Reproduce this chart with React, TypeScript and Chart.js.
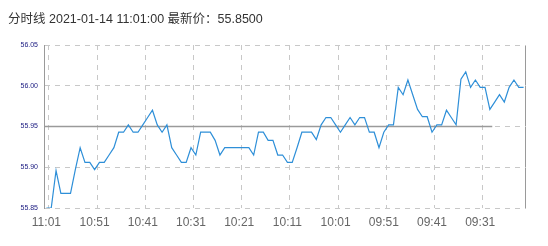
import React, { useEffect, useRef } from "react";
import { Chart, registerables } from "chart.js";

Chart.register(...registerables);

const titleText = "分时线 2021-01-14 11:01:00 最新价：55.8500";

const timeLabels = [
  "11:01", "11:00", "10:59", "10:58", "10:57", "10:56", "10:55", "10:54", "10:53", "10:52",
  "10:51", "10:50", "10:49", "10:48", "10:47", "10:46", "10:45", "10:44", "10:43", "10:42",
  "10:41", "10:40", "10:39", "10:38", "10:37", "10:36", "10:35", "10:34", "10:33", "10:32",
  "10:31", "10:30", "10:29", "10:28", "10:27", "10:26", "10:25", "10:24", "10:23", "10:22",
  "10:21", "10:20", "10:19", "10:18", "10:17", "10:16", "10:15", "10:14", "10:13", "10:12",
  "10:11", "10:10", "10:09", "10:08", "10:07", "10:06", "10:05", "10:04", "10:03", "10:02",
  "10:01", "10:00", "09:59", "09:58", "09:57", "09:56", "09:55", "09:54", "09:53", "09:52",
  "09:51", "09:50", "09:49", "09:48", "09:47", "09:46", "09:45", "09:44", "09:43", "09:42",
  "09:41", "09:40", "09:39", "09:38", "09:37", "09:36", "09:35", "09:34", "09:33", "09:32",
  "09:31", "09:30", "09:29", "09:28", "09:27", "09:26", "09:25", "09:24", "09:23", "09:22",
];

const priceValues = [
  55.850, 55.850, 55.896, 55.868, 55.868, 55.868, 55.897, 55.924, 55.906, 55.906,
  55.897, 55.906, 55.906, 55.915, 55.924, 55.943, 55.943, 55.952, 55.943, 55.943,
  55.952, 55.961, 55.970, 55.952, 55.943, 55.952, 55.924, 55.915, 55.906, 55.906,
  55.924, 55.915, 55.943, 55.943, 55.943, 55.933, 55.915, 55.924, 55.924, 55.924,
  55.924, 55.924, 55.924, 55.915, 55.943, 55.943, 55.933, 55.933, 55.915, 55.915,
  55.906, 55.906, 55.924, 55.943, 55.943, 55.943, 55.934, 55.952, 55.961, 55.961,
  55.952, 55.943, 55.952, 55.961, 55.952, 55.961, 55.961, 55.943, 55.943, 55.924,
  55.943, 55.952, 55.952, 55.998, 55.989, 56.007, 55.989, 55.971, 55.962, 55.962,
  55.943, 55.952, 55.952, 55.970, 55.961, 55.952, 56.008, 56.017, 55.998, 56.007,
  55.998, 55.998, 55.971, 55.980, 55.989, 55.980, 55.998, 56.007, 55.998, 55.998,
];

const prevClose = 55.95;
const prevCloseEndLabel = "09:29";

const yMin = 55.85;
const yMax = 56.05;
const yStep = 0.05;
const labelEvery = 10;

const FONT = '"Liberation Sans", Arial, "Noto Sans CJK SC", sans-serif';

const prevClosePlugin = {
  id: "prevCloseLine",
  beforeDatasetsDraw(chart: any) {
    const { ctx, chartArea, scales } = chart;
    const y = scales.y.getPixelForValue(prevClose);
    const idx = timeLabels.indexOf(prevCloseEndLabel);
    const half = (scales.x.getPixelForValue(1) - scales.x.getPixelForValue(0)) / 2;
    const xEnd = scales.x.getPixelForValue(idx) + half;
    ctx.save();
    ctx.strokeStyle = "#9a9a9a";
    ctx.lineWidth = 1.5;
    ctx.beginPath();
    ctx.moveTo(chartArea.left, y);
    ctx.lineTo(xEnd, y);
    ctx.stroke();
    ctx.restore();
  },
};

export default function App() {
  const ref = useRef<HTMLCanvasElement | null>(null);

  useEffect(() => {
    if (!ref.current) return;
    const chart = new Chart(ref.current, {
      type: "line",
      data: {
        labels: timeLabels,
        datasets: [
          {
            data: priceValues,
            borderColor: "#2e8fd8",
            borderWidth: 1.2,
            pointRadius: 0,
            tension: 0,
            fill: false,
          },
        ],
      },
      options: {
        responsive: false,
        animation: false,
        devicePixelRatio: 1,
        layout: { padding: { left: 0, right: 14, top: 0, bottom: 1.6 } },
        font: { family: FONT },
        plugins: {
          legend: { display: false },
          tooltip: { enabled: false },
          title: {
            display: true,
            text: titleText,
            align: "start",
            color: "#333333",
            font: { family: FONT, size: 12.5, weight: "normal" },
            padding: { top: 4.3, bottom: 17.7 },
          },
        },
        scales: {
          x: {
            type: "category",
            offset: true,
            grid: {
              offset: true,
              drawTicks: false,
              lineWidth: 1,
              color: (ctx: any) =>
                ctx.type === "tick"
                  ? ctx.index % labelEvery === 1
                    ? "#c8c8c8"
                    : "rgba(0,0,0,0)"
                  : "#9a9a9a",
            },
            border: {
              display: false,
              dash: (ctx: any) => (ctx.type === "tick" ? [5, 5] : []),
            },
            ticks: {
              autoSkip: false,
              maxRotation: 0,
              minRotation: 0,
              padding: 7,
              color: "#666666",
              font: { family: FONT, size: 12 },
              callback: (_v: any, i: number) => (i % labelEvery === 0 ? timeLabels[i] : ""),
            },
          },
          y: {
            min: yMin,
            max: yMax,
            afterFit: (s: any) => {
              s.width = 36;
            },
            grid: {
              drawTicks: false,
              color: "#c8c8c8",
              lineWidth: 1,
            },
            border: {
              display: true,
              color: "#9a9a9a",
              width: 1,
              dash: [5, 5],
            },
            ticks: {
              stepSize: yStep,
              padding: 6,
              color: "#1a1a80",
              font: { family: FONT, size: 7 },
              callback: (v: any) => Number(v).toFixed(2),
            },
          },
        },
      },
      plugins: [prevClosePlugin],
    });
    return () => chart.destroy();
  }, []);

  return (
    <div style={{ width: 532, height: 230 }}>
      <canvas ref={ref} width={532} height={230} style={{ display: "block" }} />
    </div>
  );
}
